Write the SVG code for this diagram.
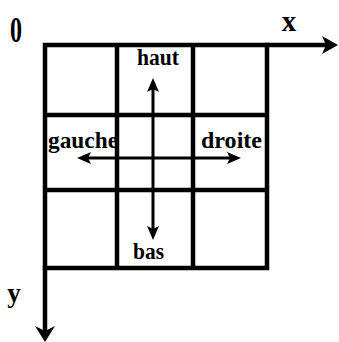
<svg xmlns="http://www.w3.org/2000/svg" width="339" height="342" viewBox="0 0 339 342">
<style>
.g{stroke:#000;stroke-width:4.5;fill:none;stroke-linecap:square}
.a{stroke:#000;stroke-width:3;fill:none}
.t{font-family:"Liberation Serif",serif;font-weight:bold;fill:#000}
.ah{fill:#000}
</style>
<rect width="339" height="342" fill="#fff"/>
<g id="grid">
<path class="g" d="M45 45H267V268H45Z M117 45V268 M193 45V268 M45 115H267 M45 190H267"/>
</g>
<g id="connectors">
<path class="g" d="M267 45H326"/>
<path class="ah" d="M338 45 L322 36 L326 45 L322 54 Z"/>
<path class="g" d="M45 268V330"/>
<path class="ah" d="M45 342 L35 326 L45 331 L55 326 Z"/>
<path class="a" d="M153 88V230"/>
<path class="ah" d="M153 78 L147 92 L153 89 L159 92 Z"/>
<path class="ah" d="M153 240 L147 226 L153 229 L159 226 Z"/>
<path class="a" d="M87 158H230"/>
<path class="ah" d="M77 158 L91 152 L88 158 L91 164 Z"/>
<path class="ah" d="M241 158 L227 152 L230 158 L227 164 Z"/>
</g>
<g id="labels">
<text class="t" x="16" y="42" font-size="35" text-anchor="middle" textLength="12" lengthAdjust="spacingAndGlyphs">0</text>
<text class="t" x="289" y="31" font-size="29" text-anchor="middle">x</text>
<text class="t" x="14" y="302" font-size="27" text-anchor="middle">y</text>
<text class="t" x="137" y="65" font-size="23" textLength="42" lengthAdjust="spacingAndGlyphs">haut</text>
<text class="t" x="48" y="148" font-size="23" textLength="70" lengthAdjust="spacingAndGlyphs">gauche</text>
<text class="t" x="201" y="148" font-size="23" textLength="61" lengthAdjust="spacingAndGlyphs">droite</text>
<text class="t" x="133" y="259" font-size="23" textLength="31" lengthAdjust="spacingAndGlyphs">bas</text>
</g>
</svg>
